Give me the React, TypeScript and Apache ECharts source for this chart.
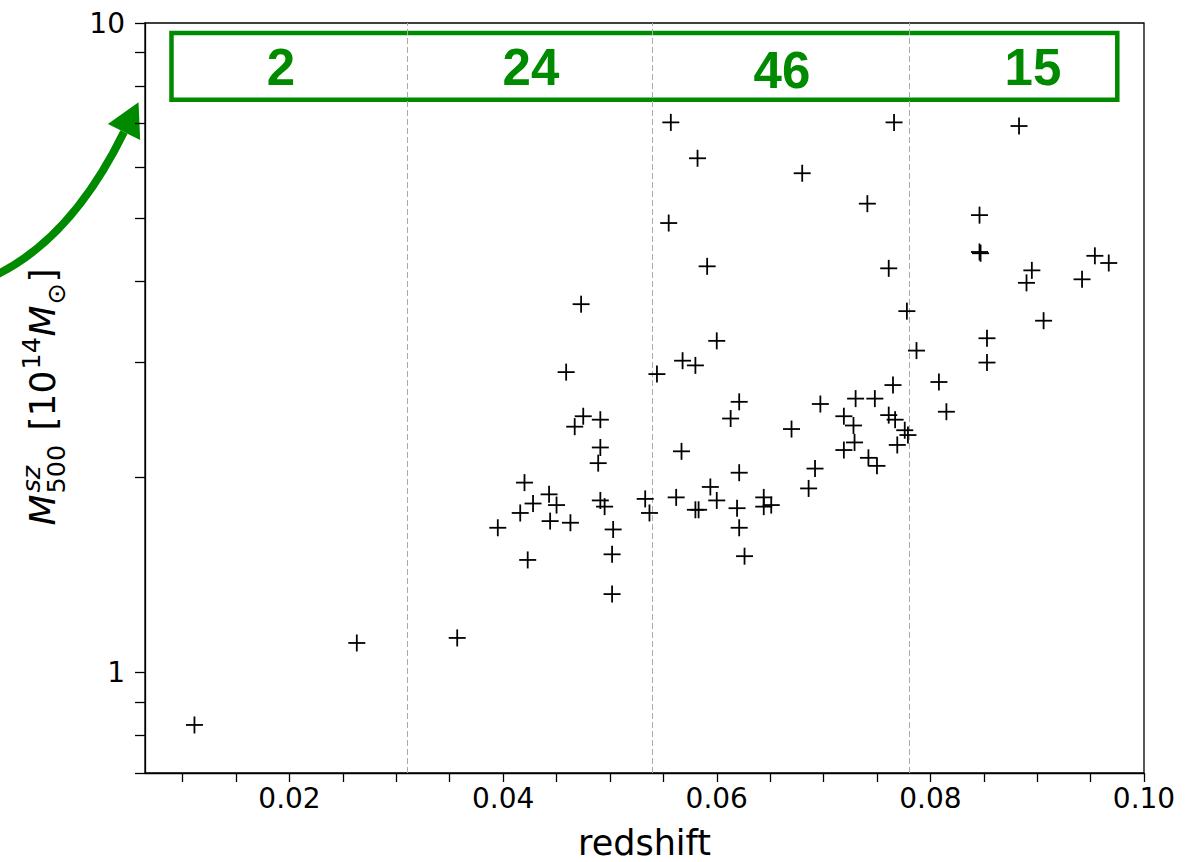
import React, { useEffect, useRef } from 'react';
import * as echarts from 'echarts';

// ---------- data ----------
const redshift = [
  0.0111, 0.0263,
  0.0357, 0.0395, 0.0416, 0.042, 0.0423, 0.0428, 0.0443, 0.0444, 0.045, 0.0459, 0.0463, 0.0467,
  0.0473, 0.0475, 0.0489, 0.0491, 0.0491, 0.0491, 0.0495, 0.0503, 0.0502, 0.0502, 0.0533, 0.0537,
  0.0544, 0.0555, 0.0557, 0.0562, 0.0567, 0.0568, 0.058, 0.0582, 0.058, 0.0583, 0.0591, 0.0594,
  0.06, 0.06, 0.0613, 0.0619, 0.0621, 0.0621, 0.0621, 0.0626, 0.0644, 0.0644, 0.0651, 0.067,
  0.068, 0.0686, 0.0692, 0.0697, 0.0719, 0.0728, 0.0729, 0.0719, 0.073, 0.0741, 0.0742, 0.0748,
  0.075, 0.0761, 0.0761, 0.0765, 0.0766, 0.0767, 0.0776, 0.0779, 0.0769, 0.0778,
  0.0787, 0.0808, 0.0815, 0.0846, 0.0846, 0.0847, 0.0853, 0.0853, 0.0883, 0.089, 0.0895, 0.0906,
  0.0942, 0.0954, 0.0967,
];
const massSZ = [
  0.83, 1.11,
  1.13, 1.67, 1.76, 1.96, 1.49, 1.82, 1.88, 1.71, 1.81, 2.9, 1.7, 2.39,
  3.69, 2.48, 2.1, 2.45, 2.22, 1.84, 1.8, 1.66, 1.52, 1.32, 1.85, 1.76,
  2.88, 4.92, 7.03, 1.86, 2.19, 3.02, 2.97, 6.19, 1.78, 1.78, 4.22, 1.93,
  3.24, 1.84, 2.46, 1.79, 1.67, 2.61, 2.03, 1.51, 1.86, 1.8, 1.81, 2.37,
  5.87, 1.92, 2.06, 2.59, 2.48, 2.4, 2.26, 2.2, 2.64, 5.27, 2.14, 2.64,
  2.08, 4.19, 2.49, 2.77, 7.03, 2.45, 2.36, 2.32, 2.24, 3.6,
  3.13, 2.8, 2.52, 5.06, 4.44, 4.42, 3.27, 3.0, 6.94, 3.98, 4.16, 3.48,
  4.03, 4.38, 4.27,
];
const binEdges = [0.031, 0.054, 0.078];
const binCounts = ['2', '24', '46', '15'];
const binLabelX = [0.0192, 0.0426, 0.0661, 0.0896];
const binLabelY = [8.54, 8.54, 8.44, 8.54];
const boxCorners = [[0.00895, 9.65], [0.0975, 7.62]];
const xLabelTicks = [0.02, 0.04, 0.06, 0.08, 0.1];
const xTicks = [0.01, 0.015, 0.02, 0.025, 0.03, 0.035, 0.04, 0.045, 0.05, 0.055, 0.06, 0.065, 0.07, 0.075, 0.08, 0.085, 0.09, 0.095, 0.1];
const yTicks = [0.7, 0.8, 0.9, 1, 2, 3, 4, 5, 6, 7, 8, 9, 10];
const yLabelTicks = [1, 10];

const GREEN = '#008a00';
const FONT = 'DejaVu Sans';

function yNameTexts() {
  const F = 36;
  const s = 25.5;
  const parts: Array<[string, number, number, number, boolean]> = [
    ['M', 0, 0, F, true],
    ['500', 32, 10, s, false],
    ['sz', 33, -15, s, true],
    ['[', 95, 0, F, false],
    ['10', 109, 0, F, false],
    ['14', 156, -15, s, false],
    ['M', 189, 0, F, true],
    ['\u2299', 221, 10, s, false],
    [']', 243, 0, F, false],
  ];
  const W = 257;
  return parts.map(([t, x, b, size, it]) => ({
    type: 'text',
    style: {
      text: t,
      x: x - W / 2,
      y: b - 0.346 * size,
      fontSize: size,
      fontFamily: FONT,
      fontStyle: it ? 'italic' : 'normal',
      align: 'left',
      verticalAlign: 'middle',
      fill: '#000',
    },
  }));
}

export default function App() {
  const ref = useRef<HTMLDivElement>(null);
  useEffect(() => {
    if (!ref.current) return;
    const chart = echarts.init(ref.current, undefined, { renderer: 'svg' });
    const points = redshift.map((z, i) => [z, massSZ[i]]);
    const labels = binLabelX.map((x, i) => [x, binLabelY[i], binCounts[i]]);

    const P0 = [-4, 275];
    const C = [72, 238];
    const P2 = [124, 132];
    const dx = P2[0] - C[0];
    const dy = P2[1] - C[1];
    const L = Math.hypot(dx, dy);
    const d = [dx / L, dy / L];
    const n = [-d[1], d[0]];
    const tip = [P2[0] + 33 * d[0], P2[1] + 33 * d[1]];
    const c1 = [P2[0] + 18 * n[0], P2[1] + 18 * n[1]];
    const c2 = [P2[0] - 18 * n[0], P2[1] - 18 * n[1]];

    const option: any = {
      animation: false,
      backgroundColor: '#fff',
      textStyle: { fontFamily: FONT },
      grid: {
        left: 145, top: 23, width: 999, height: 750,
        show: true, borderColor: '#000', borderWidth: 1.3, backgroundColor: 'transparent',
        containLabel: false,
        outerBoundsMode: 'none',
      },
      xAxis: {
        type: 'value',
        min: 0.00647,
        max: 0.1,
        name: 'redshift',
        nameLocation: 'middle',
        nameGap: 54,
        nameTextStyle: { fontSize: 35, lineHeight: 32, fontFamily: FONT, color: '#000' },
        axisLine: { show: true, lineStyle: { color: '#000', width: 1.3 } },
        axisTick: { show: true, length: 9, customValues: xTicks, lineStyle: { color: '#000', width: 1.3 } },
        axisLabel: {
          customValues: xLabelTicks,
          formatter: (v: number) => v.toFixed(2),
          fontSize: 28, fontFamily: FONT, color: '#000', margin: 11,
        },
        splitLine: { show: false },
      },
      yAxis: {
        type: 'log',
        logBase: 10,
        min: 0.7,
        max: 10,
        axisLine: { show: true, lineStyle: { color: '#000', width: 1.3 } },
        axisTick: { show: true, length: 10, customValues: yTicks, lineStyle: { color: '#000', width: 1.3 } },
        axisLabel: {
          customValues: yLabelTicks,
          formatter: (v: number) => String(Math.round(v)),
          fontSize: 28, fontFamily: FONT, color: '#000', margin: 20,
        },
        minorTick: { show: false },
        splitLine: { show: false },
      },
      series: [
        {
          type: 'scatter',
          data: [],
          silent: true,
          markLine: {
            silent: true,
            precision: 6,
            symbol: ['none', 'none'],
            label: { show: false },
            lineStyle: { type: [6, 3], color: '#aaaaaa', width: 1 },
            emphasis: { disabled: true },
            data: binEdges.map((e) => ({ xAxis: e })),
          },
          markArea: {
            silent: true,
            label: { show: false },
            itemStyle: { color: 'rgba(0,0,0,0)', borderColor: GREEN, borderWidth: 4.5 },
            emphasis: { disabled: true },
            data: [[{ coord: boxCorners[0] }, { coord: boxCorners[1] }]],
          },
        },
        {
          type: 'custom',
          silent: true,
          data: points,
          renderItem: (params: any, api: any) => {
            const p = api.coord([api.value(0), api.value(1)]);
            const h = 8.5;
            const st = { stroke: '#000', lineWidth: 1.8 };
            return {
              type: 'group',
              children: [
                { type: 'line', shape: { x1: p[0] - h, y1: p[1], x2: p[0] + h, y2: p[1] }, style: st },
                { type: 'line', shape: { x1: p[0], y1: p[1] - h, x2: p[0], y2: p[1] + h }, style: st },
              ],
            };
          },
          z: 5,
        },
        {
          type: 'custom',
          silent: true,
          data: labels,
          renderItem: (params: any, api: any) => {
            const p = api.coord([api.value(0), api.value(1)]);
            return {
              type: 'text',
              x: p[0],
              y: p[1],
              style: {
                text: binCounts[params.dataIndex],
                fontSize: 51,
                fontWeight: 'bold',
                fontFamily: 'Liberation Sans',
                fill: GREEN,
                align: 'center',
                verticalAlign: 'middle',
              },
            };
          },
          z: 6,
        },
      ],
      graphic: [
        {
          type: 'group',
          x: 55,
          y: 397,
          rotation: Math.PI / 2,
          children: yNameTexts(),
        },
        {
          type: 'bezierCurve',
          shape: { x1: P0[0], y1: P0[1], cpx1: C[0], cpy1: C[1], x2: P2[0], y2: P2[1] },
          style: { stroke: GREEN, lineWidth: 8, fill: 'none' },
        },
        {
          type: 'polygon',
          shape: { points: [tip, c1, c2] },
          style: { fill: GREEN },
        },
      ],
    };
    chart.setOption(option);
    return () => chart.dispose();
  }, []);
  return <div ref={ref} style={{ position: 'fixed', left: 0, top: 0, width: 1190, height: 862 }} />;
}
